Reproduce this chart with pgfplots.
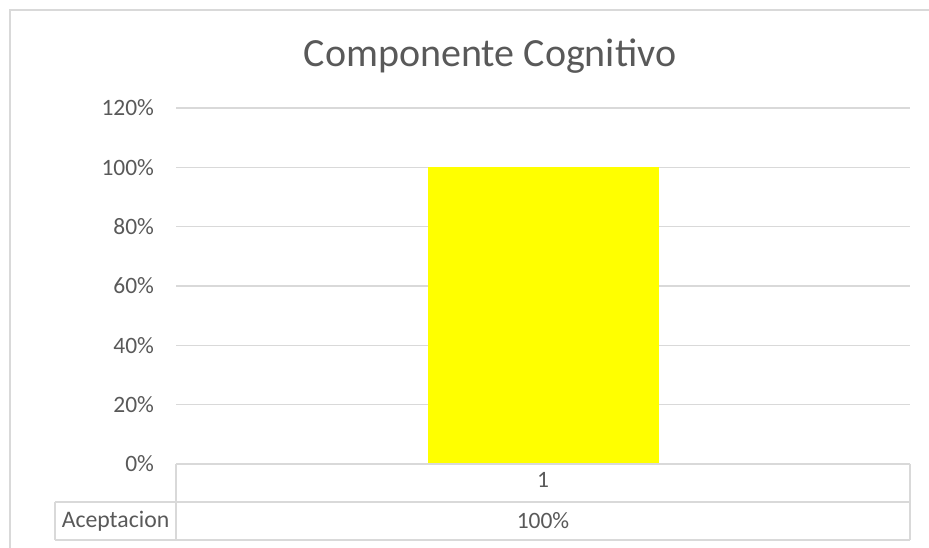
\documentclass[border=0pt]{standalone}
\usepackage{pgfplots}
\pgfplotsset{compat=1.18}
\usepackage{fontspec}
\setmainfont{Carlito}
\definecolor{txt}{HTML}{595959}
\definecolor{grd}{HTML}{D9D9D9}
\definecolor{bary}{HTML}{FFFF00}
\begin{document}
\begin{tikzpicture}
\path[use as bounding box] (0pt,0pt) rectangle (696.75pt,411pt);
\begin{axis}[
  at={(132pt,63pt)}, anchor=south west,
  scale only axis, width=550.5pt, height=267pt,
  xmin=0.5, xmax=1.5, ymin=0, ymax=1.2,
  ytick={0,0.2,0.4,0.6,0.8,1.0,1.2},
  yticklabel={\pgfmathparse{\tick*100}\pgfmathprintnumber[fixed,precision=0]{\pgfmathresult}\%},
  /pgf/number format/assume math mode=true,
  xtick={1}, xticklabels={1},
  major tick length=0pt,
  axis line style={draw=none},
  ymajorgrids, grid style={grd, line width=0.9pt},
  tick label style={font=\fontsize{17.6}{20}\selectfont, text=txt},
  yticklabel style={xshift=-13pt},
  xticklabel style={yshift=-3pt},
  clip=false,
]
\addplot[ybar, bar width=173.25pt, fill=bary, draw=none] coordinates {(1,1.0)};
\end{axis}
\begin{scope}[x=0.75pt,y=-0.75pt,shift={(0pt,411pt)}]
\begin{scope}
\clip (0,0) rectangle (929,548);
\draw[grd, line width=1.2pt] (10,10) rectangle (960,580);
\end{scope}
\begin{scope}[grd, line width=0.9pt]
\draw (176,464) -- (910,464);
\draw (176,464) -- (176,540);
\draw (910,464) -- (910,540);
\draw (55,502) -- (910,502);
\draw (55,540) -- (910,540);
\draw (55,502) -- (55,540);
\end{scope}
\node[text=txt, font=\fontsize{17.8}{20}\selectfont] at (115.5,521) {Aceptacion};
\node[text=txt, font=\fontsize{17.6}{20}\selectfont] at (543,521) {100\%};
\node[text=txt, font=\fontsize{30}{36}\selectfont] at (490,56) {Componente Cognitivo};
\end{scope}
\end{tikzpicture}
\end{document}
